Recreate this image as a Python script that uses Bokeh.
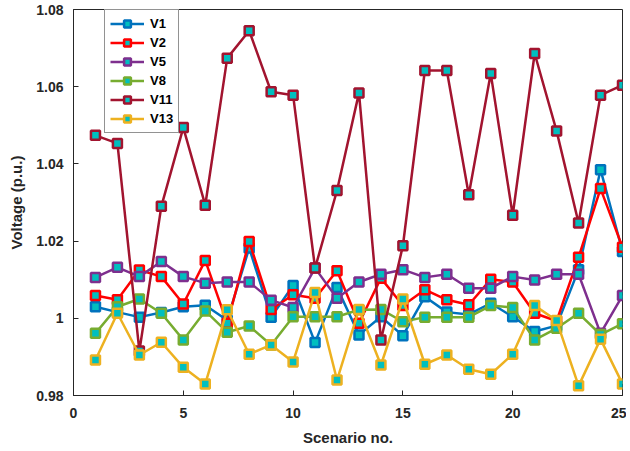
from bokeh.plotting import figure
from bokeh.models import FixedTicker, Legend, LegendItem
from bokeh.embed import file_html
from bokeh.resources import INLINE

scenarios = list(range(1, 26))

v1 = [1.0030, 1.0016, 1.0003, 1.0015, 1.0030, 1.0034, 0.9995, 1.0182, 1.0003, 1.0085,
      0.9937, 1.0080, 0.9957, 1.0004, 0.9955, 1.0056, 1.0016, 1.0010, 1.0039, 1.0004,
      0.9966, 0.9981, 1.0126, 1.0385, 1.0173]
v2 = [1.0059, 1.0048, 1.0125, 1.0108, 1.0037, 1.0150, 0.9987, 1.0199, 1.0023, 1.0061,
      1.0052, 1.0123, 0.9987, 1.0104, 1.0033, 1.0074, 1.0048, 1.0035, 1.0101, 1.0094,
      1.0013, 0.9993, 1.0158, 1.0336, 1.0184]
v5 = [1.0106, 1.0132, 1.0108, 1.0147, 1.0108, 1.0091, 1.0094, 1.0094, 1.0047, 1.0028,
      1.0130, 1.0052, 1.0094, 1.0114, 1.0126, 1.0106, 1.0114, 1.0078, 1.0078, 1.0108,
      1.0099, 1.0114, 1.0114, 0.9961, 1.0059]
v8 = [0.9961, 1.0030, 1.0050, 1.0013, 0.9944, 1.0019, 0.9964, 0.9980, 0.9931, 1.0004,
      1.0004, 1.0004, 1.0022, 1.0023, 0.9991, 1.0003, 1.0003, 1.0003, 1.0033, 1.0028,
      0.9944, 0.9974, 1.0013, 0.9958, 0.9986]
v11 = [1.0474, 1.0453, 0.9915, 1.0290, 1.0494, 1.0293, 1.0674, 1.0745, 1.0587, 1.0578,
       1.0130, 1.0331, 1.0584, 0.9944, 1.0188, 1.0642, 1.0642, 1.0320, 1.0634, 1.0267,
       1.0686, 1.0485, 1.0247, 1.0578, 1.0604]
v13 = [0.9892, 1.0013, 0.9905, 0.9938, 0.9873, 0.9830, 1.0022, 0.9907, 0.9931, 0.9887,
       1.0067, 0.9840, 1.0023, 0.9879, 1.0050, 0.9881, 0.9905, 0.9868, 0.9855, 0.9907,
       1.0033, 0.9994, 0.9825, 0.9946, 0.9830]

series_names = ["V1", "V2", "V5", "V8", "V11", "V13"]
series_values = [v1, v2, v5, v8, v11, v13]
series_colors = ["#0072BD", "#FF0000", "#7E2F8E", "#77AC30", "#A2142F", "#EDB120"]

x_ticks = [0, 5, 10, 15, 20, 25]
y_ticks = [0.98, 1.0, 1.02, 1.04, 1.06, 1.08]
y_tick_labels = ["0.98", "1", "1.02", "1.04", "1.06", "1.08"]

FONT = "Liberation Sans"
DARK = "#262626"

p = figure(frame_width=549, frame_height=386, x_range=(0, 25), y_range=(0.98, 1.08),
           output_backend="svg", toolbar_location=None,
           min_border_left=73, min_border_top=9, min_border_right=4, min_border_bottom=10)
p.background_fill_color = "white"
p.border_fill_color = "white"
p.grid.visible = False
p.outline_line_color = DARK
p.outline_line_width = 1

items = []
for name, vals, col in zip(series_names, series_values, series_colors):
    r1 = p.line(scenarios, vals, line_color=col, line_width=2.5)
    r2 = p.scatter(scenarios, vals, marker="square", size=9, line_color=col,
                   line_width=2.5, fill_color="#00BFBF")
    items.append(LegendItem(label=name, renderers=[r1, r2]))

p.xaxis.ticker = FixedTicker(ticks=x_ticks)
p.yaxis.ticker = FixedTicker(ticks=y_ticks)
p.yaxis.major_label_overrides = {t: l for t, l in zip(y_ticks, y_tick_labels)}
p.xaxis.axis_label = "Scenario no."
p.yaxis.axis_label = "Voltage (p.u.)"

for ax in [p.xaxis[0], p.yaxis[0]]:
    ax.axis_line_color = DARK
    ax.major_tick_line_color = DARK
    ax.major_tick_in = 5
    ax.major_tick_out = 0
    ax.minor_tick_line_color = None
    ax.major_label_text_font = FONT
    ax.major_label_text_font_style = "bold"
    ax.major_label_text_font_size = "14px"
    ax.major_label_text_color = DARK
    ax.axis_label_text_font = FONT
    ax.axis_label_text_font_style = "bold"
    ax.axis_label_text_font_size = "15px"
    ax.axis_label_text_color = DARK

p.xaxis.major_label_standoff = 12
p.xaxis.axis_label_standoff = 8
p.yaxis.major_label_standoff = 10
p.yaxis.axis_label_standoff = 8

legend = Legend(items=items, location=(31, 262), orientation="vertical",
                label_text_font=FONT, label_text_font_style="bold",
                label_text_font_size="13px", label_text_color="black",
                glyph_width=34, glyph_height=17, label_height=17, spacing=2,
                label_standoff=6, padding=5, margin=0,
                border_line_color=DARK, border_line_width=1,
                background_fill_color="white", background_fill_alpha=1)
p.add_layout(legend, "center")

with open("out.html", "w") as f:
    f.write(file_html(p, INLINE))
